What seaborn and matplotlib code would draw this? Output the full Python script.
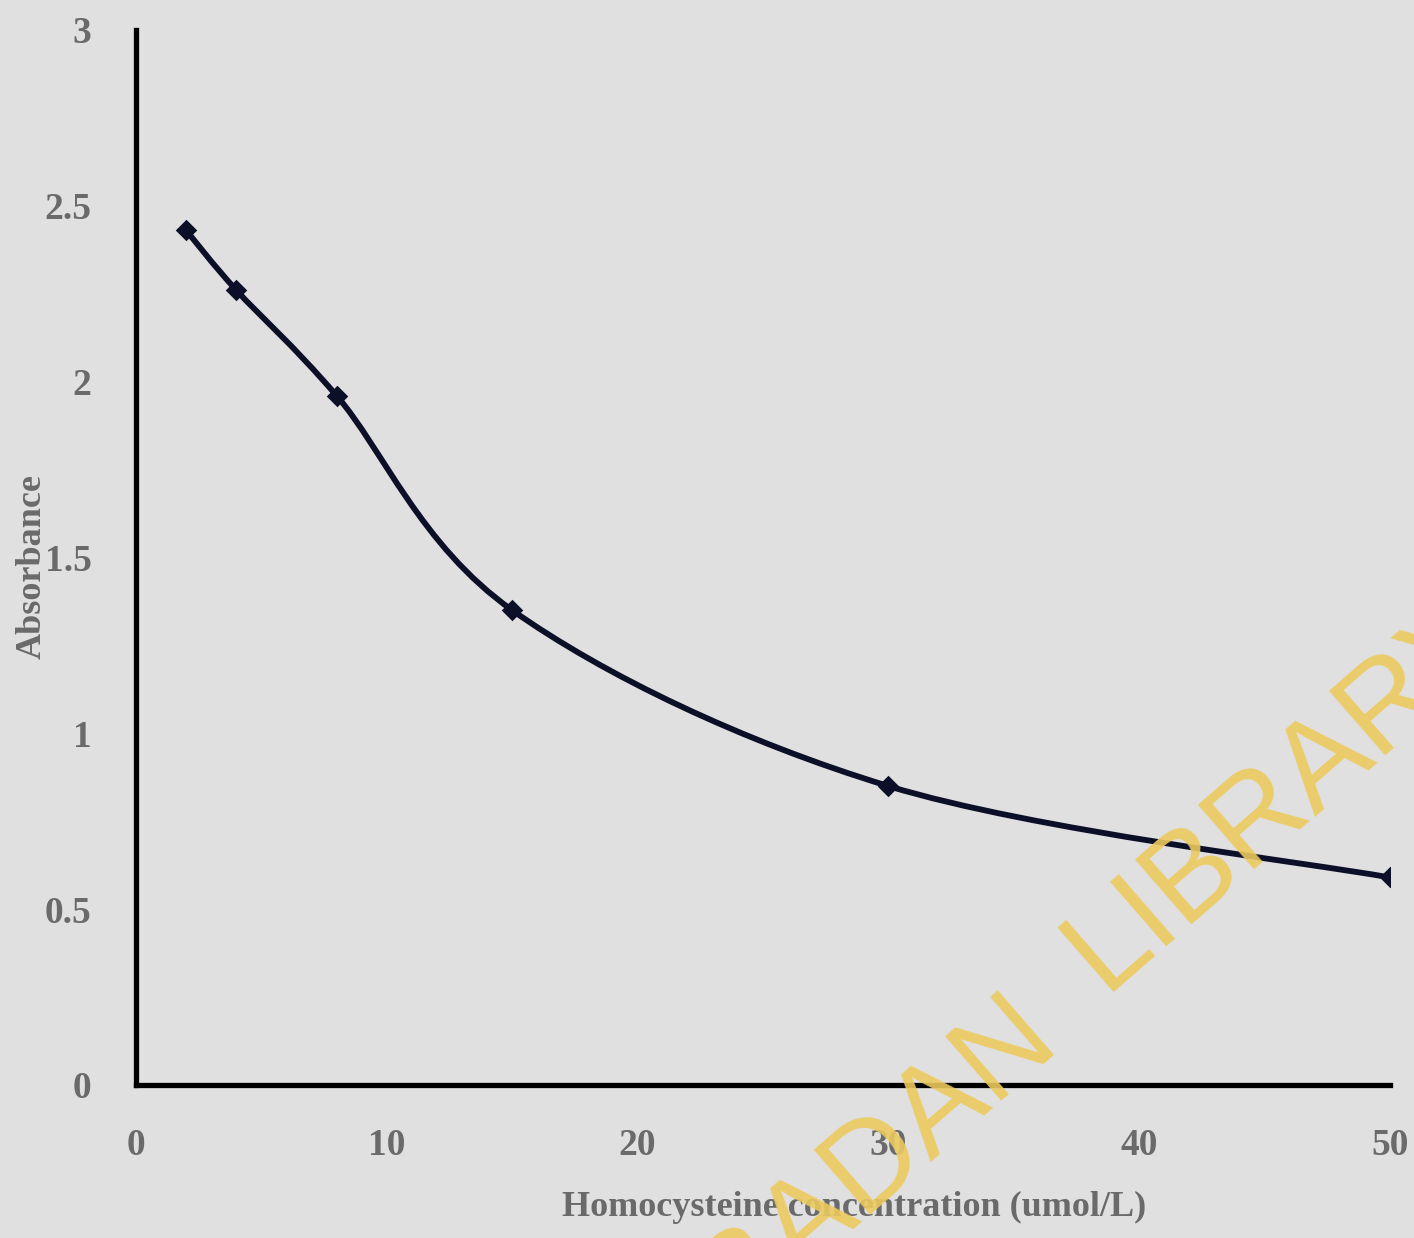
import numpy as np
import pandas as pd
import matplotlib
matplotlib.use("Agg")
import matplotlib.pyplot as plt
from matplotlib.path import Path
from matplotlib.patches import PathPatch
import seaborn as sns

# ---- data ----
concentration = [2, 4, 8, 15, 30, 50]
absorbance = [2.43, 2.26, 1.96, 1.35, 0.85, 0.59]
x_ticks = [0, 10, 20, 30, 40, 50]
x_tick_labels = ["0", "10", "20", "30", "40", "50"]
y_ticks = [0, 0.5, 1, 1.5, 2, 2.5, 3]
y_tick_labels = ["0", "0.5", "1", "1.5", "2", "2.5", "3"]
x_label = "Homocysteine concentration (umol/L)"
y_label = "Absorbance"
watermark_left = "UNIVERSITY OF IBADAN"
watermark_right = "LIBRARY"

df = pd.DataFrame({"conc": concentration, "abs": absorbance})

sns.set_theme(style="white")
plt.rcParams["font.family"] = ["Liberation Serif", "DejaVu Serif"]

BG = "#e0e0e0"
LINE = "#0b1028"
TXT = "#6a6a6a"

fig = plt.figure(figsize=(14.14, 12.38), dpi=100, facecolor=BG)
ax = fig.add_axes([0.0962, 0.1236, 0.8868, 0.8522])
ax.set_facecolor(BG)

# smoothed curve (Excel-style smoothing through the data points)
pts = np.column_stack([df["conc"].to_numpy(float), df["abs"].to_numpy(float)])
verts = [tuple(pts[0])]
codes = [Path.MOVETO]
n = len(pts)
for i in range(n - 1):
    p0 = pts[i - 1] if i > 0 else pts[i]
    p1 = pts[i]
    p2 = pts[i + 1]
    p3 = pts[i + 2] if i + 2 < n else pts[i + 1]
    c1 = p1 + (p2 - p0) / 6.0
    c2 = p2 - (p3 - p1) / 6.0
    verts += [tuple(c1), tuple(c2), tuple(p2)]
    codes += [Path.CURVE4] * 3
ax.add_patch(PathPatch(Path(verts, codes), facecolor="none", edgecolor=LINE,
                       lw=4.2, capstyle="round", joinstyle="round", zorder=3))

sns.scatterplot(data=df, x="conc", y="abs", marker="D", s=120, color=LINE,
                edgecolor=LINE, linewidth=0, ax=ax, zorder=4, legend=False)

ax.set_xlim(0, 50)
ax.set_ylim(0, 3)
ax.set_xticks(x_ticks)
ax.set_xticklabels(x_tick_labels)
ax.set_yticks(y_ticks)
ax.set_yticklabels(y_tick_labels)

for s in ["top", "right"]:
    ax.spines[s].set_visible(False)
for s in ["left", "bottom"]:
    ax.spines[s].set_color("black")
    ax.spines[s].set_linewidth(3.8)

ax.tick_params(axis="both", which="major", direction="out", length=6, width=3,
               color="black", labelcolor=TXT, labelsize=27)
ax.tick_params(axis="x", pad=25)
ax.tick_params(axis="y", pad=26)
for lab in ax.get_xticklabels() + ax.get_yticklabels():
    lab.set_fontweight("bold")

ax.set_xlabel(x_label, fontsize=26, fontweight="bold", color=TXT)
ax.set_ylabel(y_label, fontsize=26, fontweight="bold", color=TXT)
ax.xaxis.set_label_coords(0.573, -0.100)
ax.yaxis.set_label_coords(-0.070, 0.491)

# watermark
ang = 41
wm_kw = dict(rotation=ang, rotation_mode="anchor", va="baseline", fontsize=90,
             color="#ecca5e", alpha=0.9, family=["Liberation Sans"], zorder=10)
fig.text(1062 / 1414, 1 - 1048 / 1238, watermark_left, ha="right", **wm_kw)
fig.text(1104 / 1414, 1 - 992 / 1238, watermark_right, ha="left", **wm_kw)

fig.savefig("out.png", dpi=100, facecolor=BG)
